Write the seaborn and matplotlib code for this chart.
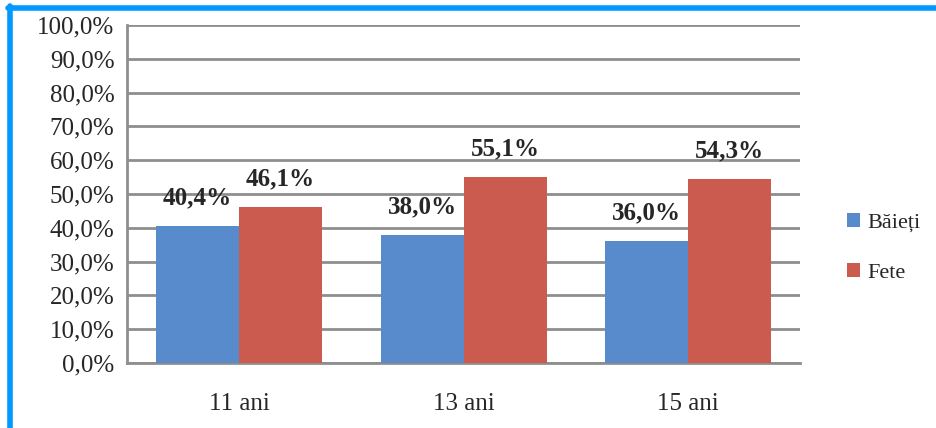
import numpy as np
import pandas as pd
import matplotlib
matplotlib.use("Agg")
import matplotlib.pyplot as plt
import seaborn as sns

# values
categories = ["11 ani", "13 ani", "15 ani"]
baieti = [40.4, 38.0, 36.0]
fete = [46.1, 55.1, 54.3]
series_names = ["Băieți", "Fete"]
ytick_vals = list(range(0, 101, 10))

df = pd.DataFrame({
    "grupa": categories * 2,
    "sex": [series_names[0]] * 3 + [series_names[1]] * 3,
    "val": baieti + fete,
})

sns.set_style("white")
plt.rcParams['font.family'] = ['Liberation Serif', 'DejaVu Serif']

cols = ["#588BCB", "#CB5A4F"]
grid_col = "#8E8E8E"
fs = 18

fig = plt.figure(figsize=(9.36, 4.28), dpi=100)
ax = fig.add_axes([0.1357, 0.152, 0.719, 0.7896])

sns.barplot(data=df, x="grupa", y="val", hue="sex", palette=cols,
            width=0.74, saturation=1, linewidth=0, ax=ax, zorder=3)

ax.set_ylim(0, 100)
ax.set_xlim(-0.5, 2.5)
ax.set_yticks(ytick_vals)
ax.set_yticklabels([f"{v},0%" for v in ytick_vals], fontsize=fs)
ax.set_xlabel("")
ax.set_ylabel("")
ax.tick_params(axis="x", labelsize=fs, length=0, pad=22)
ax.tick_params(axis="y", length=6, width=2, color=grid_col, pad=3)
ax.yaxis.grid(True, color=grid_col, linewidth=2, zorder=0)
ax.set_axisbelow(True)
for side in ["top", "right"]:
    ax.spines[side].set_visible(False)
for side in ["left", "bottom"]:
    ax.spines[side].set_color(grid_col)
    ax.spines[side].set_linewidth(2)

for cont in ax.containers:
    ax.bar_label(cont, labels=[f"{v:.1f}%".replace(".", ",") for v in cont.datavalues],
                 padding=12, fontsize=fs, fontweight="bold")

leg = ax.legend(loc="center left", bbox_to_anchor=(1.04, 0.34), frameon=False,
                fontsize=16, handlelength=0.6, handleheight=0.6, handletextpad=0.3,
                labelspacing=1.35)

# blue frame on left and top
fig.add_artist(plt.Line2D([0.0107, 0.0107], [0, 0.986], color="#0099FF", linewidth=4,
                          transform=fig.transFigure))
fig.add_artist(plt.Line2D([0.0085, 1.0], [0.981, 0.981], color="#0099FF", linewidth=4,
                          transform=fig.transFigure))

fig.savefig("out.png", dpi=100)
